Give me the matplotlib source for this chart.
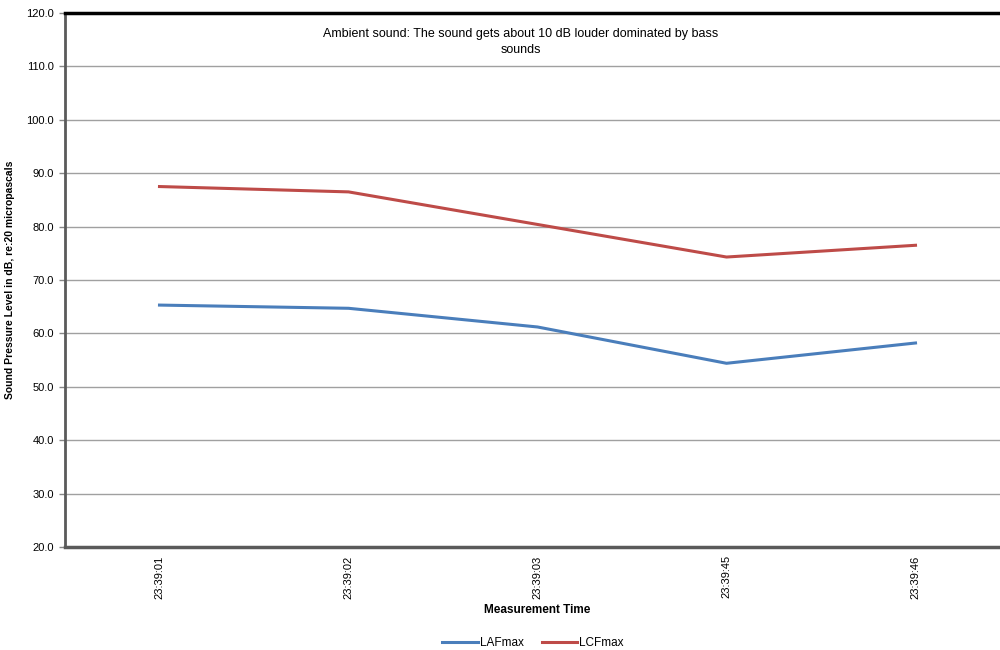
import numpy as np
import matplotlib.pyplot as plt

plt.rcParams['font.family'] = ['Liberation Sans', 'DejaVu Sans']

times = ['23:39:01', '23:39:02', '23:39:03', '23:39:45', '23:39:46']
laf_max = [65.3, 64.7, 61.2, 54.4, 58.2]
lcf_max = [87.5, 86.5, 80.4, 74.3, 76.5]

fig = plt.figure(figsize=(10, 6.5), dpi=100)
ax = fig.add_axes([0.065, 0.1585, 0.945, 0.8215])

x = np.arange(len(times))
ax.plot(x, laf_max, color='#4a7ebb', lw=2.2, label='LAFmax')
ax.plot(x, lcf_max, color='#be4b48', lw=2.2, label='LCFmax')

ax.set_xlim(-0.5, len(times) - 0.5)
ax.set_ylim(20, 120)
ax.set_yticks(np.arange(20, 121, 10))
ax.set_yticklabels(['%.1f' % v for v in np.arange(20, 121, 10)], fontsize=8)
ax.set_xticks(x)
ax.set_xticklabels(times, rotation=90, fontsize=8)
ax.tick_params(axis='x', length=0, pad=6)
ax.tick_params(axis='y', length=4, width=1, color='#868686', pad=4)

ax.grid(axis='y', color='#a0a0a0', lw=1)
ax.set_axisbelow(True)

ax.spines['right'].set_visible(False)
ax.spines['top'].set_color('black')
ax.spines['top'].set_linewidth(2.5)
ax.spines['left'].set_color('#5a5a5a')
ax.spines['left'].set_linewidth(2)
ax.spines['bottom'].set_color('#5a5a5a')
ax.spines['bottom'].set_linewidth(2.5)

ax.set_ylabel('Sound Pressure Level in dB, re:20 micropascals', fontsize=7.5,
              fontweight='bold')
ax.yaxis.set_label_coords(-0.053, 0.5)
ax.set_xlabel('Measurement Time', fontsize=8.5, fontweight='bold', labelpad=4)

fig.text(0.521, 0.957, 'Ambient sound: The sound gets about 10 dB louder dominated by bass\nsounds',
         ha='center', va='top', fontsize=9, linespacing=1.4)

fig.legend(loc='lower center', bbox_to_anchor=(0.533, -0.015), ncol=2, frameon=False,
           fontsize=8.5, handlelength=3, columnspacing=1.5, handletextpad=0.2)

fig.savefig('out.png', dpi=100)
